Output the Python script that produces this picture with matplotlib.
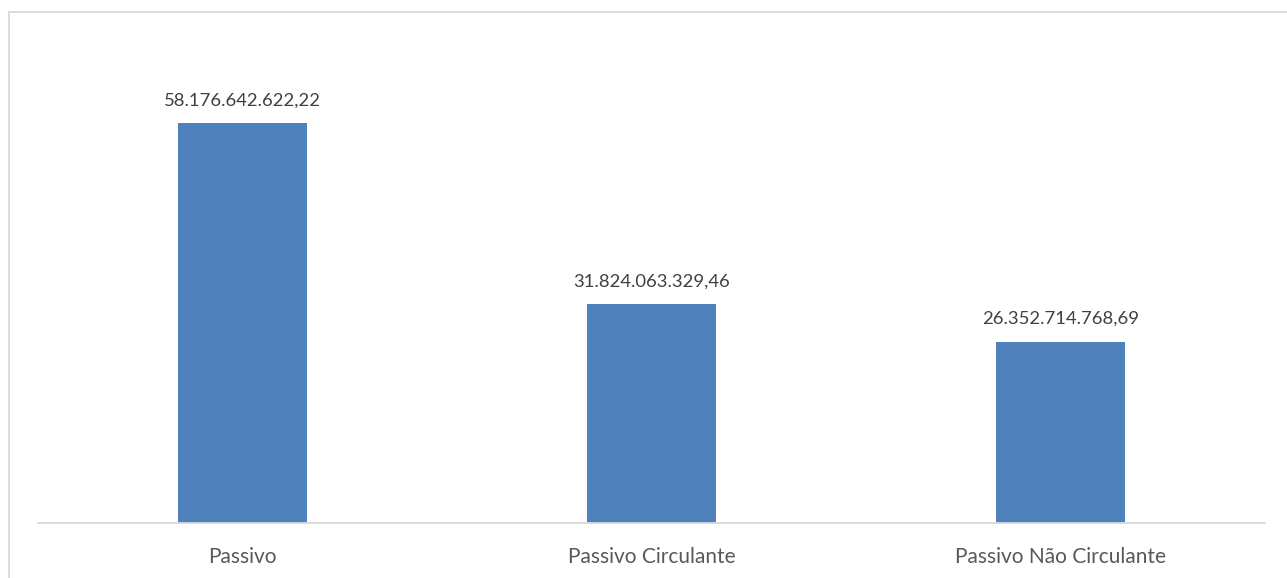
import matplotlib
matplotlib.use("Agg")
import matplotlib.pyplot as plt
from matplotlib.patches import Rectangle

categorias = ["Passivo", "Passivo Circulante", "Passivo Não Circulante"]
valores = [58176642622.22, 31824063329.46, 26352714768.69]
rotulos = ["58.176.642.622,22", "31.824.063.329,46", "26.352.714.768,69"]

plt.rcParams['font.family'] = ['Lato', 'DejaVu Sans']

fig = plt.figure(figsize=(12.87, 5.78), dpi=100)
# moldura do grafico
fig.patches.append(Rectangle((9 / 1287, -0.1), 1.1, (578 - 12) / 578 + 0.1,
                             transform=fig.transFigure, fill=False,
                             edgecolor='#D9D9D9', linewidth=1.3))

ax = fig.add_axes([38 / 1287, 55 / 578, (1265 - 38) / 1287, (523 - 42) / 578])
x = range(len(categorias))
ax.bar(x, valores, width=0.313, color='#4F81BD')
ax.set_xlim(-0.5, 2.5)
ax.set_ylim(0, 70e9)

for xi, v, r in zip(x, valores, rotulos):
    ax.annotate(r, (xi, v), xytext=(0, 23), textcoords='offset pixels',
                ha='center', va='center', fontsize=13.3, color='#404040')

for s in ['top', 'right', 'left']:
    ax.spines[s].set_visible(False)
ax.spines['bottom'].set_color('#D9D9D9')
ax.spines['bottom'].set_linewidth(1.3)
ax.set_yticks([])
ax.set_xticks(list(x))
ax.set_xticklabels(categorias, fontsize=15, color='#595959')
ax.tick_params(axis='x', length=0, pad=17)

fig.savefig("out.png", dpi=100)
